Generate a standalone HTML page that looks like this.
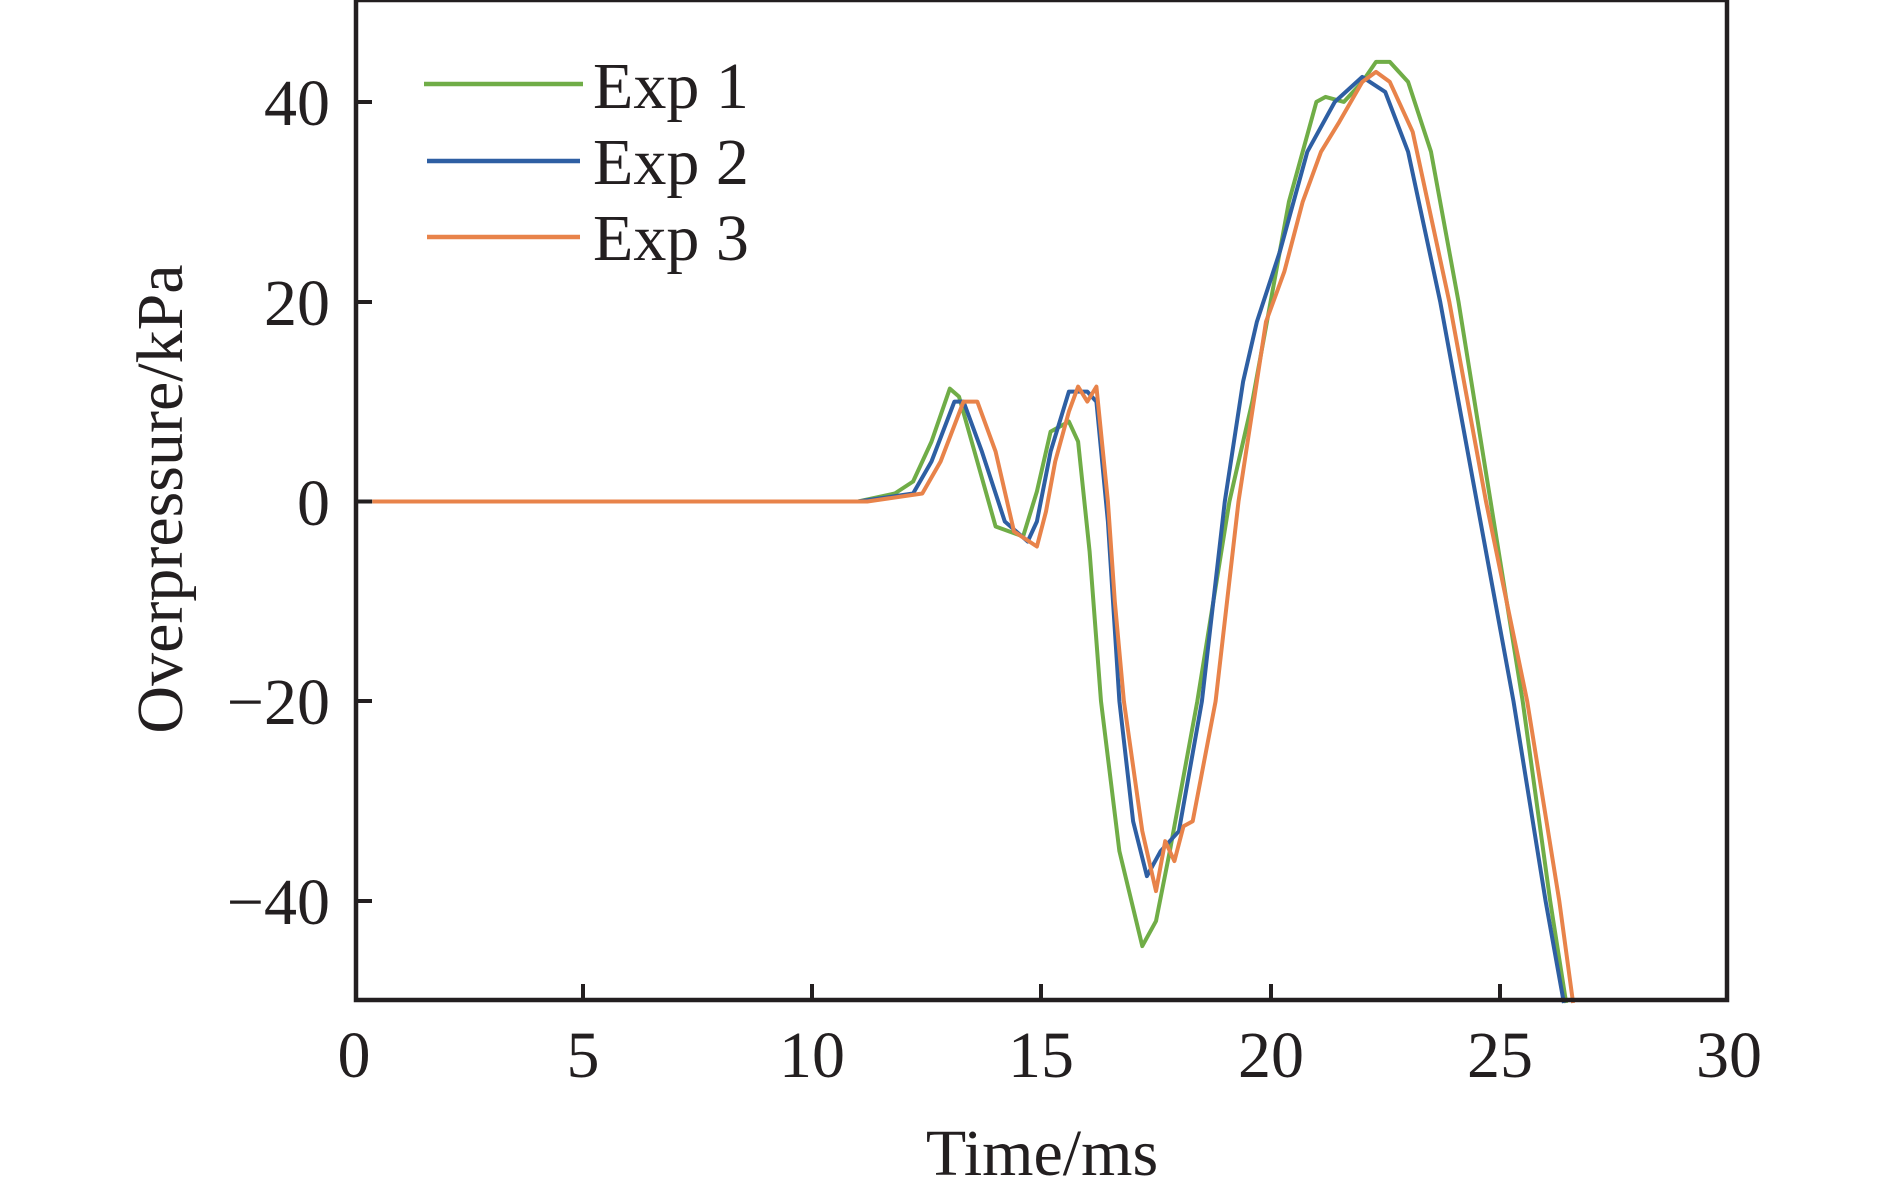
<!DOCTYPE html>
<html><head><meta charset="utf-8"><style>
html,body{margin:0;padding:0;background:#fff}
svg text{font-family:"Liberation Serif",serif;fill:#231f20}
</style></head><body>
<svg id="s" width="1890" height="1193" viewBox="0 0 1890 1193" xmlns="http://www.w3.org/2000/svg">
<rect width="1890" height="1193" fill="#fff"/>
<g id="series"></g>
<rect x="356" y="0" width="1371" height="1000" fill="none" stroke="#231f20" stroke-width="4.5"/>
<g stroke="#231f20" stroke-width="4">
<line x1="354" y1="102" x2="372" y2="102"/><line x1="354" y1="302" x2="372" y2="302"/>
<line x1="354" y1="501.5" x2="372" y2="501.5"/><line x1="354" y1="701" x2="372" y2="701"/>
<line x1="354" y1="901" x2="372" y2="901"/>
<line x1="583" y1="1001" x2="583" y2="984"/><line x1="812" y1="1001" x2="812" y2="984"/>
<line x1="1041" y1="1001" x2="1041" y2="984"/><line x1="1271" y1="1001" x2="1271" y2="984"/>
<line x1="1500" y1="1001" x2="1500" y2="984"/>
</g>
<g font-size="66" text-anchor="end">
<text x="330" y="125">40</text><text x="330" y="325">20</text><text x="330" y="525">0</text>
<text x="330" y="724">−20</text><text x="330" y="924">−40</text>
</g>
<g font-size="66" text-anchor="middle">
<text x="354" y="1077">0</text><text x="583" y="1077">5</text><text x="812" y="1077">10</text>
<text x="1041" y="1077">15</text><text x="1271" y="1077">20</text><text x="1500" y="1077">25</text>
<text x="1729" y="1077">30</text>
<text x="1042" y="1175">Time/ms</text>
<text transform="translate(182,499) rotate(-90)">Overpressure/kPa</text>
</g>
<g stroke-width="4.5">
<line x1="424" y1="84" x2="583" y2="84" stroke="#70ad47"/>
<line x1="427" y1="161" x2="580" y2="161" stroke="#2e5fa3"/>
<line x1="427" y1="237" x2="580" y2="237" stroke="#e8834a"/>
</g>
<g font-size="66">
<text x="593" y="108">Exp 1</text><text x="593" y="184">Exp 2</text><text x="593" y="260">Exp 3</text>
</g>
</svg>
<script>
var X=function(t){return 354+t*45.83}, Y=function(v){return 501.5-v*9.99};
var d={
"#2e5fa3":[[0.4,0],[11,0],[12.2,0.8],[12.6,4],[13.1,10],[13.3,10],[13.7,5],[14.2,-2],[14.7,-4],[14.9,-2],[15.2,5],[15.6,11],[16.0,11],[16.2,10],[16.45,-2],[16.7,-20],[17.0,-32],[17.3,-37.5],[17.6,-35],[18.0,-33],[18.5,-20],[19.0,0],[19.4,12],[19.7,18],[20.2,25],[20.8,35],[21.4,40],[22.0,42.5],[22.5,41],[23.0,35],[23.7,20],[24.5,0],[25.3,-20],[26.0,-40],[26.4,-50.2]],
"#70ad47":[[0.4,0],[11,0],[11.8,0.8],[12.2,2],[12.6,6],[13.0,11.3],[13.2,10.5],[13.6,4],[14.0,-2.5],[14.6,-3.5],[14.9,1],[15.2,7],[15.6,8],[15.8,6],[16.05,-5],[16.3,-20],[16.7,-35],[17.2,-44.5],[17.5,-42],[17.8,-35],[18.4,-20],[19.1,0],[19.6,10],[20.0,20],[20.4,30],[21.0,40],[21.2,40.5],[21.6,40],[22.0,42],[22.3,44],[22.6,44],[23.0,42],[23.5,35],[24.1,20],[24.8,0],[25.5,-20],[26.1,-40],[26.45,-50.2]],
"#e8834a":[[0.4,0],[11.2,0],[12.4,0.8],[12.8,4],[13.3,10],[13.6,10],[14.0,5],[14.4,-3],[14.9,-4.5],[15.1,-1],[15.3,4],[15.6,9],[15.8,11.5],[16.0,10],[16.2,11.5],[16.45,0],[16.6,-10],[16.8,-20],[17.2,-33],[17.4,-37],[17.5,-39],[17.7,-34],[17.9,-36],[18.1,-32.5],[18.3,-32],[18.8,-20],[19.3,0],[19.9,18],[20.3,23],[20.7,30],[21.1,35],[21.5,38],[22.0,42],[22.3,43],[22.6,42],[23.1,37],[23.9,20],[24.7,0],[25.6,-20],[26.3,-40],[26.6,-50.2]]};
var g=document.getElementById("series"),ns="http://www.w3.org/2000/svg";
["#70ad47","#2e5fa3","#e8834a"].forEach(function(c){var p=document.createElementNS(ns,"polyline");
p.setAttribute("points",d[c].map(function(q){return X(q[0]).toFixed(1)+","+Y(q[1]).toFixed(1)}).join(" "));
p.setAttribute("fill","none");p.setAttribute("stroke",c);p.setAttribute("stroke-width","4");p.setAttribute("stroke-linejoin","round");g.appendChild(p);});
</script>
</body></html>
